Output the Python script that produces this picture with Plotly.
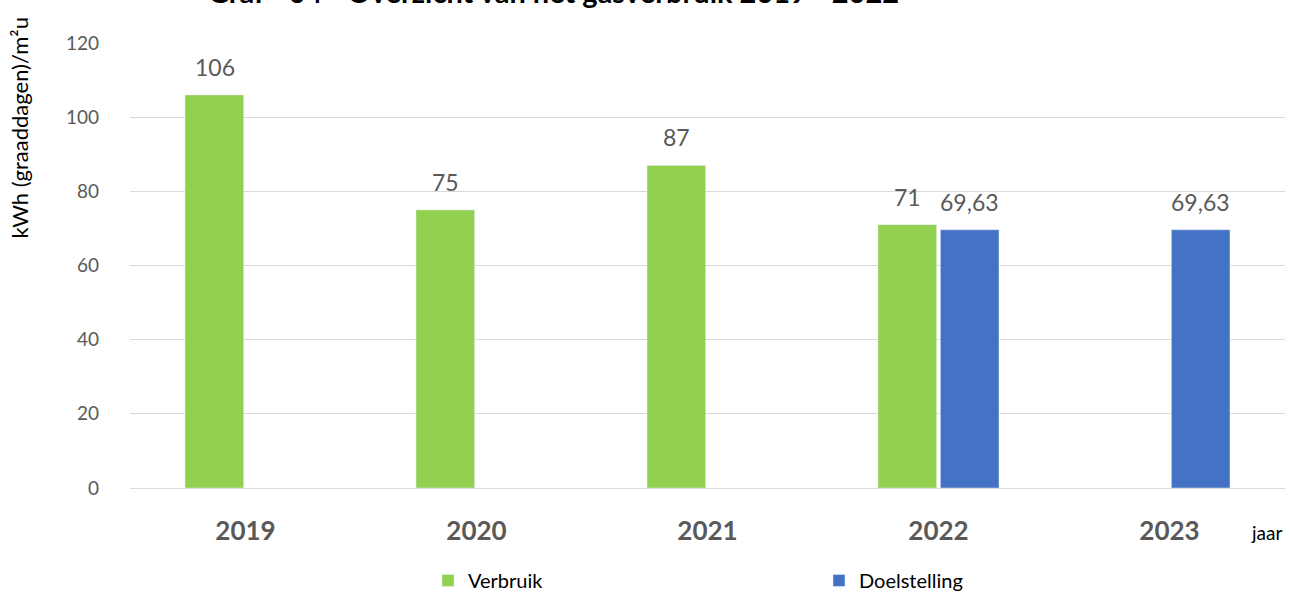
import plotly.graph_objects as go

years = ["2019", "2020", "2021", "2022", "2023"]
verbruik = [106, 75, 87, 71, None]
doelstelling = [None, None, None, 69.63, 69.63]
y_ticks = [0, 20, 40, 60, 80, 100, 120]

def fmt(v):
    return f"{v:g}".replace(".", ",")

FONT = "Lato"
GRAY = "#595959"

fig = go.Figure()
fig.add_trace(go.Bar(name="Verbruik", x=years, y=verbruik, marker=dict(color="#92D050")))
fig.add_trace(go.Bar(name="Doelstelling", x=years, y=doelstelling, marker=dict(color="#4472C4")))

# value labels above the bars (category index positions)
for series, shift in ((verbruik, -31), (doelstelling, 31)):
    for i, v in enumerate(series):
        if v is None:
            continue
        fig.add_annotation(
            x=i, y=v, xref="x", yref="y", text=fmt(v), showarrow=False,
            xanchor="center", yanchor="bottom", xshift=shift, yshift=12,
            font=dict(family=FONT, size=23, color=GRAY),
        )

fig.update_layout(
    width=1290, height=592,
    margin=dict(l=130, r=5, t=43, b=104, autoexpand=False),
    plot_bgcolor="white", paper_bgcolor="white",
    barmode="group", bargap=0.46, bargroupgap=0.06,
    font=dict(family=FONT, color=GRAY),
    showlegend=True,
    legend=dict(
        orientation="h", x=0.258, xanchor="left", y=-0.164, yanchor="top",
        font=dict(family=FONT, size=20, color="#000000"),
        entrywidth=346, entrywidthmode="pixels",
        itemclick=False, bgcolor="rgba(0,0,0,0)",
    ),
)
fig.update_xaxes(
    type="category", range=[-0.5, len(years) - 0.5], autorange=False,
    showgrid=False, showline=False, zeroline=False,
    ticks="", ticklabelstandoff=25, automargin=False,
    tickfont=dict(family=FONT, size=26, color=GRAY, weight="bold"),
)
fig.update_yaxes(
    range=[0, 120], autorange=False, tickvals=y_ticks, showgrid=True, gridcolor="#D9D9D9",
    gridwidth=1, zeroline=True, zerolinecolor="#D9D9D9", zerolinewidth=1,
    showline=False, ticks="", ticklabelstandoff=30, automargin=False,
    tickfont=dict(family=FONT, size=19, color=GRAY),
)

fig.add_annotation(
    text="kWh (graaddagen)/m²u", textangle=-90, showarrow=False,
    xref="paper", yref="paper", x=-0.0952, y=0.81, xanchor="center", yanchor="middle",
    font=dict(family=FONT, size=22, color="#000000"),
)
fig.add_annotation(
    text="jaar", showarrow=False,
    xref="paper", yref="paper", x=0.984, y=-0.1, xanchor="center", yanchor="middle",
    font=dict(family=FONT, size=19, color="#000000"),
)
fig.add_annotation(
    text="<b>Graf - 04 - Overzicht van het gasverbruik 2019 - 2022</b>", showarrow=False,
    xref="paper", yref="paper", x=0.066, y=1.073, xanchor="left", yanchor="bottom",
    font=dict(family=FONT, size=29, color="#000000"),
)

fig.write_html(
    "out.html",
    config={"displayModeBar": False},
    post_script="document.body.style.margin='0';document.body.style.overflow='hidden';",
)
